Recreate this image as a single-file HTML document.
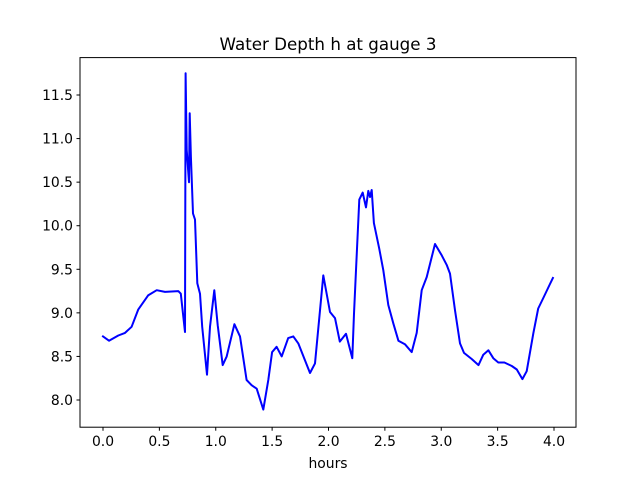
<!DOCTYPE html>
<html><head><meta charset="utf-8"><style>
html,body{margin:0;padding:0;background:#fff;}
svg text{font-family:"DejaVu Sans","Liberation Sans",sans-serif;fill:#000;}
</style></head><body>
<svg id="chart" width="640" height="480" xmlns="http://www.w3.org/2000/svg">
<rect x="0" y="0" width="640" height="480" fill="#fff"/>
<text x="328" y="50" font-size="16.7" text-anchor="middle">Water Depth h at gauge 3</text>
<g id="ticks"></g>
<polyline id="series" fill="none" stroke="#0000ff" stroke-width="2" stroke-linejoin="round" stroke-linecap="square"/>
<rect x="80" y="57.6" width="496" height="369.6" fill="none" stroke="#000" stroke-width="1"/>
<text x="328" y="468" font-size="13.9" text-anchor="middle">hours</text>
</svg>
<script>
const hours = [0,0.053,0.136,0.195,0.254,0.313,0.40,0.476,0.55,0.668,0.69,0.727,0.733,0.742,0.763,0.769,0.78,0.798,0.816,0.836,0.86,0.88,0.922,0.949,0.987,1.017,1.062,1.097,1.165,1.215,1.274,1.318,1.363,1.422,1.466,1.50,1.54,1.585,1.643,1.688,1.732,1.836,1.88,1.954,2.013,2.058,2.10,2.155,2.211,2.226,2.244,2.273,2.303,2.333,2.353,2.368,2.383,2.403,2.45,2.486,2.53,2.575,2.62,2.678,2.738,2.782,2.827,2.871,2.945,3.004,3.048,3.078,3.122,3.166,3.202,3.27,3.33,3.373,3.418,3.462,3.506,3.56,3.626,3.67,3.72,3.758,3.817,3.86,3.905,3.96,3.99];
const depth = [8.73,8.68,8.74,8.77,8.84,9.04,9.20,9.26,9.24,9.25,9.22,8.78,11.75,10.87,10.50,11.29,10.79,10.14,10.07,9.34,9.22,8.84,8.29,8.84,9.26,8.86,8.40,8.50,8.87,8.73,8.23,8.17,8.13,7.89,8.23,8.55,8.61,8.50,8.71,8.73,8.65,8.31,8.42,9.43,9.01,8.94,8.67,8.76,8.48,8.99,9.49,10.30,10.38,10.21,10.40,10.33,10.41,10.03,9.74,9.49,9.09,8.88,8.68,8.64,8.55,8.77,9.26,9.41,9.79,9.66,9.55,9.45,9.03,8.65,8.54,8.47,8.40,8.52,8.57,8.48,8.43,8.43,8.39,8.35,8.24,8.33,8.77,9.05,9.17,9.32,9.40];
const xTicks = ["0.0","0.5","1.0","1.5","2.0","2.5","3.0","3.5","4.0"];
const yTicks = ["8.0","8.5","9.0","9.5","10.0","10.5","11.0","11.5"];
function X(v){return 103 + v*112.75;}
function Y(v){return 400 - (v-8)*87.14;}
const ns="http://www.w3.org/2000/svg";
document.getElementById('series').setAttribute('points', hours.map((h,i)=>X(h).toFixed(1)+','+Y(depth[i]).toFixed(1)).join(' '));
const g=document.getElementById('ticks');
xTicks.forEach(t=>{
  const x=X(parseFloat(t));
  const l=document.createElementNS(ns,'line');
  
  
  l.setAttribute('x1',x);l.setAttribute('x2',x);l.setAttribute('y1',427.2);l.setAttribute('y2',430.7);l.setAttribute('stroke','#000');
  g.appendChild(l);
  const s=document.createElementNS(ns,'text');
  
  
  s.setAttribute('x',x);s.setAttribute('y',446);s.setAttribute('font-size','13.9');s.setAttribute('text-anchor','middle');
  s.textContent=t;g.appendChild(s);
});
yTicks.forEach(t=>{
  const y=Y(parseFloat(t));
  const l=document.createElementNS(ns,'line');
  
  
  l.setAttribute('x1',76.5);l.setAttribute('x2',80);l.setAttribute('y1',y);l.setAttribute('y2',y);l.setAttribute('stroke','#000');
  g.appendChild(l);
  const s=document.createElementNS(ns,'text');
  
  
  s.setAttribute('x',73);s.setAttribute('y',y+5);s.setAttribute('font-size','13.9');s.setAttribute('text-anchor','end');
  s.textContent=t;g.appendChild(s);
});
</script>
</body></html>
